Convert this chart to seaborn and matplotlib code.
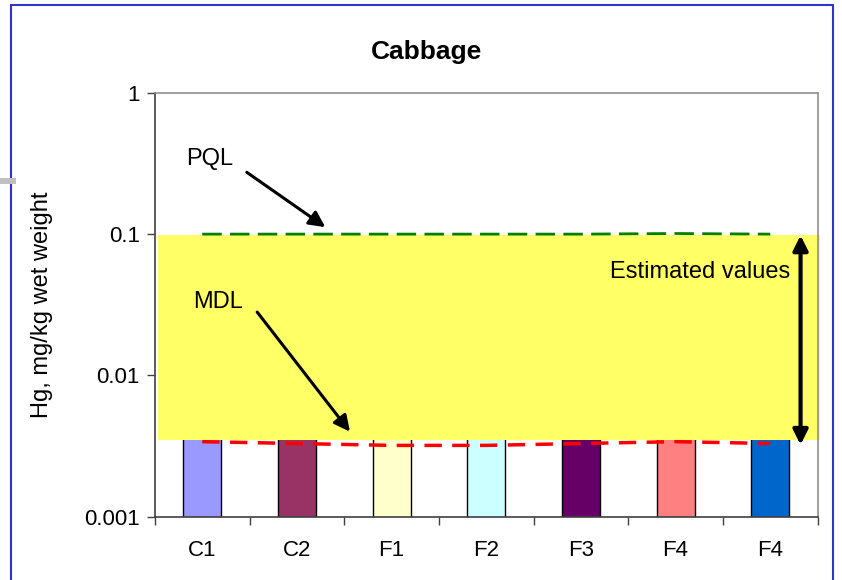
import numpy as np
import pandas as pd
import matplotlib
matplotlib.use("Agg")
import matplotlib.pyplot as plt
from matplotlib.patches import Rectangle
import seaborn as sns

# data
bar_ids = ["C1", "C2", "F1", "F2", "F3", "F4a", "F4b"]
tick_labels = ["C1", "C2", "F1", "F2", "F3", "F4", "F4"]
bar_values = [0.0037, 0.0037, 0.0037, 0.0037, 0.0037, 0.0037, 0.0037]
bar_colors = ["#9999FF", "#993366", "#FFFFCC", "#CCFFFF", "#660066", "#FF8080", "#0066CC"]
mdl_values = [0.0034, 0.0033, 0.0032, 0.0032, 0.0033, 0.0034, 0.0033]
pql_values = [0.100, 0.100, 0.100, 0.100, 0.100, 0.101, 0.100]
est_low, est_high = 0.0035, 0.098

sns.set_style("white")
plt.rcParams["font.family"] = ["Liberation Sans", "DejaVu Sans"]
plt.rcParams.update({"text.color": "black", "axes.labelcolor": "black",
                     "xtick.color": "black", "ytick.color": "black"})

df = pd.DataFrame({"id": bar_ids, "value": bar_values,
                   "mdl": mdl_values, "pql": pql_values})

fig = plt.figure(figsize=(8.42, 5.8), dpi=100)
ax = fig.add_axes([0.184, 0.109, 0.787, 0.731])
ax.set_yscale("log")

sns.barplot(data=df, x="id", y="value", hue="id", palette=bar_colors,
            saturation=1, legend=False, width=0.4, edgecolor="black",
            linewidth=1, ax=ax, zorder=2)

# estimated-values band
ax.add_patch(Rectangle((-0.47, est_low), 7.0, est_high - est_low,
                       facecolor="#FFFF66", edgecolor="none",
                       zorder=3, clip_on=False))

sns.lineplot(x=np.arange(len(bar_ids)), y=df["pql"], color="#008000",
             linewidth=2, ax=ax, zorder=4)
ax.lines[-1].set_dashes((7, 3))
sns.lineplot(x=np.arange(len(bar_ids)), y=df["mdl"], color="#FF0000",
             linewidth=2.5, ax=ax, zorder=4)
ax.lines[-1].set_dashes((5, 3))

ax.set_ylim(0.001, 1)
ax.set_xlim(-0.5, len(bar_ids) - 0.5)
ax.set_yticks([0.001, 0.01, 0.1, 1])
ax.set_yticklabels(["0.001", "0.01", "0.1", "1"])
ax.yaxis.set_minor_locator(matplotlib.ticker.NullLocator())
ax.tick_params(axis="y", which="major", direction="out", length=6,
               width=1, color="#404040", labelsize=16, left=True, pad=5)

# x ticks at category boundaries, labels centred under bars
ax.set_xticks(np.arange(-0.5, len(bar_ids)), labels=[""] * (len(bar_ids) + 1))
ax.set_xticks(np.arange(len(bar_ids)), labels=tick_labels, minor=True)
ax.tick_params(axis="x", which="major", direction="out", length=6,
               width=1, color="#404040", bottom=True)
ax.tick_params(axis="x", which="minor", length=0, labelsize=16, pad=17)

ax.set_xlabel("")
ax.set_ylabel("Hg, mg/kg wet weight", fontsize=17, labelpad=22)
ax.set_title("Cabbage", fontsize=19, fontweight="bold", pad=24, x=0.41)

for side in ["left", "bottom"]:
    ax.spines[side].set_color("#404040")
for side in ["top", "right"]:
    ax.spines[side].set_color("#909090")
for sp in ax.spines.values():
    sp.set_linewidth(1.2)
    sp.set_zorder(5)

# annotations
arrow = dict(arrowstyle="-|>", color="black", lw=2.2, mutation_scale=24,
             shrinkA=0, shrinkB=0)
ax.text(0.08, 0.34, "PQL", fontsize=17, ha="center", va="center", zorder=6)
ax.annotate("", xy=(1.30, 0.112), xytext=(0.47, 0.274), zorder=6,
            arrowprops=arrow)
ax.text(0.17, 0.033, "MDL", fontsize=17, ha="center", va="center", zorder=6)
ax.annotate("", xy=(1.56, 0.0040), xytext=(0.58, 0.0281), zorder=6,
            arrowprops=arrow)
ax.annotate("", xy=(6.32, est_high), xytext=(6.32, 0.00323), zorder=6,
            arrowprops=dict(arrowstyle="<|-|>", color="black", lw=3,
                            mutation_scale=22, shrinkA=0, shrinkB=0))
ax.text(6.21, 0.054, "Estimated values", fontsize=17, ha="right",
        va="center", zorder=6)

# frame and small gray tab on the left of the figure
fig.patches.append(Rectangle((11 / 842, -0.01), 822 / 842, 1 - 5 / 580 + 0.01,
                             transform=fig.transFigure, fill=False,
                             edgecolor="#3333CC", linewidth=1.5))
fig.patches.append(Rectangle((0, 1 - 184 / 580), 16 / 842, 6 / 580,
                             transform=fig.transFigure, facecolor="#C0C0C0",
                             edgecolor="none"))

fig.savefig("out.png", dpi=100)
